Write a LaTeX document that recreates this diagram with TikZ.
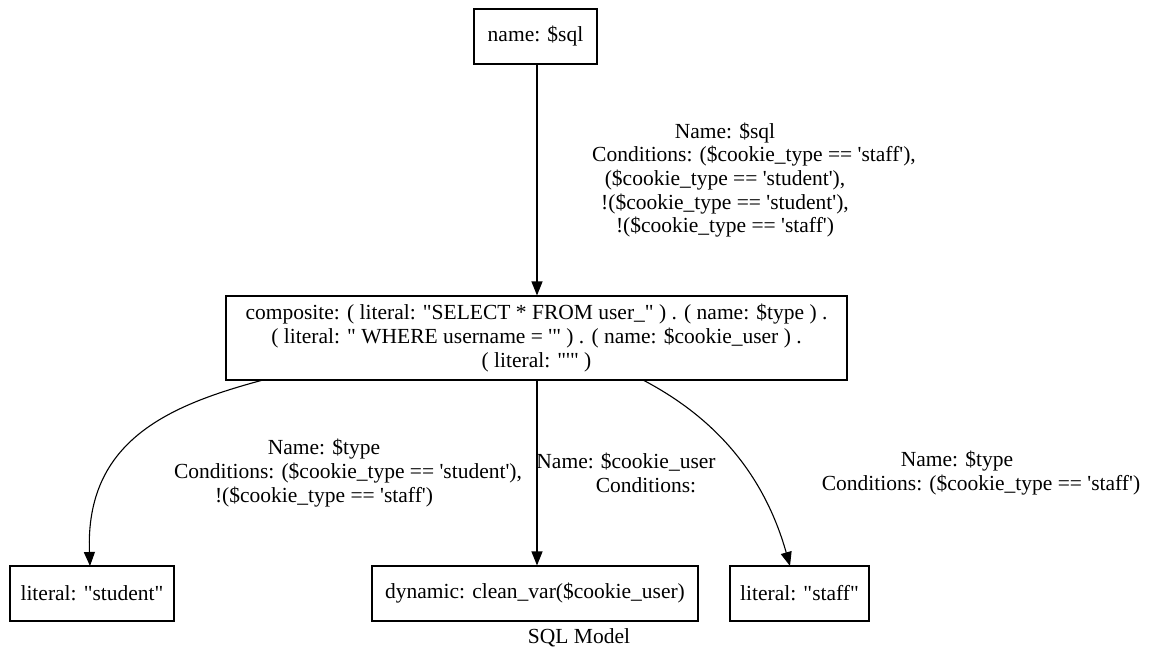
\documentclass[tikz,border=0pt]{standalone}
\usepackage{fontspec}
\setmainfont{Liberation Serif}[Ligatures=TeXOff]
\usetikzlibrary{arrows.meta}
\newcommand{\condshift}{\hspace*{48pt}}
\begin{document}
\begin{tikzpicture}[x=1pt,y=-1pt,
  box/.style={draw,line width=1.1pt,rectangle,inner sep=0pt,align=center,font=\fontsize{21.5}{23.6}\selectfont},
  lbl/.style={align=center,font=\fontsize{21.5}{23.6}\selectfont},
  edge/.style={line width=1.1pt,-{Triangle[length=14pt,width=11pt]}}]
\useasboundingbox (0,0) rectangle (1155,652);
% nodes
\node[box,minimum width=123pt,minimum height=55pt] (sql) at (535.5,36.5) {name: \$sql};
\node[box,minimum width=621pt,minimum height=84pt] (comp) at (536.5,338)
  {composite: ( literal: "SELECT * FROM user\_" ) . ( name: \$type ) .\\
   ( literal: " WHERE username = '" ) . ( name: \$cookie\_user ) .\\
   ( literal: "'" )};
\node[box,minimum width=164pt,minimum height=55pt] (student) at (92,593.5) {literal: "student"};
\node[box,minimum width=326pt,minimum height=55pt] (dyn) at (535,593.5) {dynamic: clean\_var(\$cookie\_user)};
\node[box,minimum width=139pt,minimum height=55pt] (staff) at (799.5,593.5) {literal: "staff"};
\node[lbl] (title) at (579,638) {SQL Model};

% connectors
\coordinate (c0) at (537,64);
\coordinate (c1) at (537,380);
\coordinate (s0) at (263,380);
\coordinate (s1) at (90,566);
\coordinate (t0) at (643,380);
\coordinate (t1) at (790,566);
\draw[edge] (c0) -- (c0 |- comp.north);
\draw[edge] (s0) .. controls (170,405) and (85,440) .. (s1);
\draw[edge] (c1) -- (c1 |- dyn.north);
\draw[edge] (t0) .. controls (700,410) and (760,460) .. (t1);

% edge labels
\node[lbl] (l1) at (725,180) {Name: \$sql\\\hspace*{58pt}Conditions: (\$cookie\_type == 'staff'),\\(\$cookie\_type == 'student'),\\!(\$cookie\_type == 'student'),\\!(\$cookie\_type == 'staff')};
\node[lbl] (l2) at (324,473) {Name: \$type\\\condshift Conditions: (\$cookie\_type == 'student'),\\!(\$cookie\_type == 'staff')};
\node[lbl] (l3) at (626,473) {Name: \$cookie\_user\\\hspace*{40pt}Conditions:};
\node[lbl] (l4) at (957,473) {Name: \$type\\\condshift Conditions: (\$cookie\_type == 'staff')};
\end{tikzpicture}
\end{document}
